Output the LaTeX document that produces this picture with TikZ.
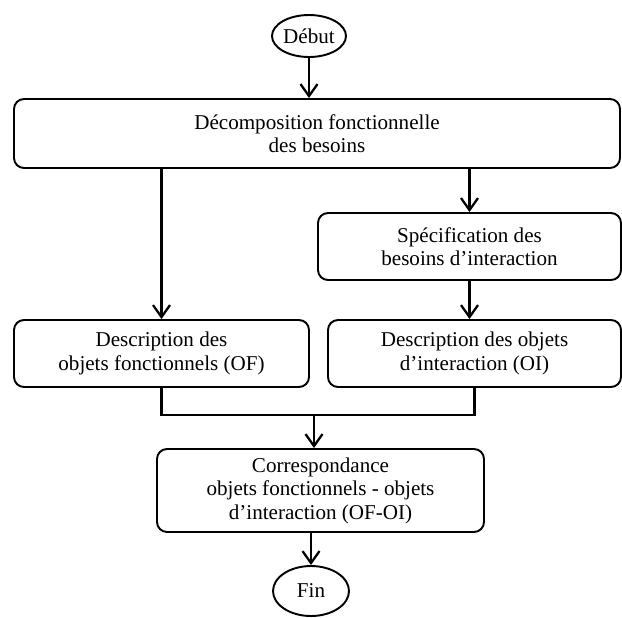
\documentclass[tikz,border=0pt]{standalone}
\usepackage{fontspec}
\setmainfont{Liberation Serif}
\usetikzlibrary{arrows.meta, shapes.geometric}

\begin{document}
\begin{tikzpicture}[
    >={Straight Barb[length=2.4mm, width=3.4mm]},
    every node/.style={font=\fontsize{12}{13.4}\selectfont},
    stepbox/.style={draw, line width=1.1pt, rounded corners=0.2cm,
                    align=center, inner sep=0pt},
    term/.style={draw, ellipse, line width=1.1pt, inner sep=0pt},
    flow/.style={->, line width=1.3pt},
  ]

  \useasboundingbox (0,0) rectangle (12.44,-12.34);

  % --- Start ---
  \node[term, minimum width=1.48cm, minimum height=0.84cm] (debut) at (6.18,-0.72) {Début};

  % --- Functional decomposition ---
  \node[stepbox, minimum width=12.12cm, minimum height=1.38cm] (decomp) at (6.34,-2.67)
    {Décomposition fonctionnelle\\des besoins};

  % --- Interaction branch (right) ---
  \node[stepbox, minimum width=6.06cm, minimum height=1.34cm] (spec) at (9.39,-4.93)
    {Spécification des\\besoins d’interaction};
  \node[stepbox, minimum width=5.86cm, minimum height=1.34cm] (oi) at (9.49,-7.07)
    {Description des objets\\d’interaction (OI)};

  % --- Functional objects (left) ---
  \node[stepbox, minimum width=5.9cm, minimum height=1.34cm] (of) at (3.23,-7.07)
    {Description des\\objets fonctionnels (OF)};

  % --- Mapping and end ---
  \node[stepbox, minimum width=6.54cm, minimum height=1.66cm] (corr) at (6.41,-9.81)
    {Correspondance\\objets fonctionnels - objets\\d’interaction (OF-OI)};
  \node[term, minimum width=1.52cm, minimum height=1.0cm] (fin) at (6.22,-11.82) {Fin};

  % --- Connectors ---
  \draw[flow] (debut) -- (debut |- decomp.north);
  \draw[flow] (decomp.south -| of.north) -- (of.north);
  \draw[flow] (decomp.south -| spec.north) -- (spec.north);
  \draw[flow] (spec) -- (spec |- oi.north);

  % both descriptions meet before the mapping step
  \coordinate (join) at (6.28,-8.3);
  \draw[line width=1.3pt] (of.south) |- (join) -| (oi.south);
  \draw[flow] (join) -- (join |- corr.north);
  \draw[flow] (corr.south -| fin.north) -- (fin);

\end{tikzpicture}
\end{document}
